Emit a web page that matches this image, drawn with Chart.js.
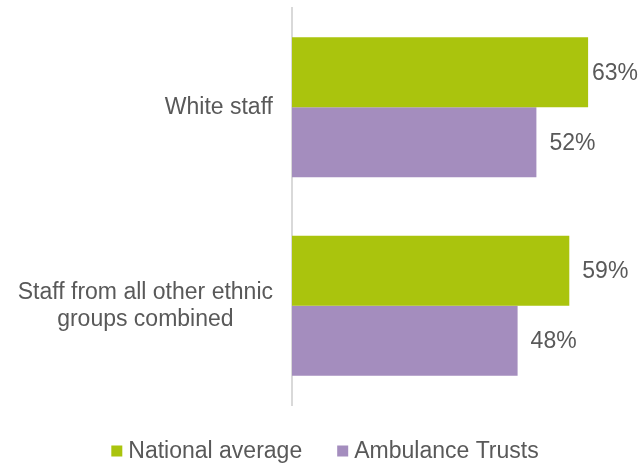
<!DOCTYPE html>
<html>
<head>
<meta charset="utf-8">
<script src="https://cdn.jsdelivr.net/npm/chart.js@4/dist/chart.umd.min.js"></script>
<style>
  html, body { margin: 0; padding: 0; background: #fff; }
  #wrap { width: 640px; height: 463px; }
</style>
</head>
<body>
<div id="wrap"><canvas id="chartStaff"></canvas></div>
<script>
var groups = [['White staff'], ['Staff from all other ethnic', 'groups combined']];
var seriesNames = ['National average', 'Ambulance Trusts'];
var nationalAvg = [63, 59];
var ambulanceTrusts = [52, 48];

var FONT = '"Liberation Sans", Arial, sans-serif';
var TEXT = '#595959';
var GREEN = '#aac40d';
var PURPLE = '#a48dbe';

// category labels: block right-aligned next to the axis, lines centred in the block
var groupLabels = {
  id: 'groupLabels',
  afterDraw: function (chart) {
    var ctx = chart.ctx;
    var y = chart.scales.y;
    var right = chart.chartArea.left - 19;
    ctx.save();
    ctx.font = '23px ' + FONT;
    ctx.fillStyle = TEXT;
    ctx.textAlign = 'center';
    ctx.textBaseline = 'middle';
    chart.data.labels.forEach(function (lines, i) {
      var w = 0;
      lines.forEach(function (l) { w = Math.max(w, ctx.measureText(l).width); });
      var cy = y.getPixelForValue(i);
      var lh = 27;
      var top = cy - (lines.length - 1) * lh / 2;
      lines.forEach(function (l, k) {
        ctx.fillText(l, right - w / 2, top + k * lh);
      });
    });
    ctx.restore();
  }
};

// percentage labels past the end of each bar, pulled back in if they would run off the edge
var valueLabels = {
  id: 'valueLabels',
  afterDatasetsDraw: function (chart) {
    var ctx = chart.ctx;
    ctx.save();
    ctx.font = '23px ' + FONT;
    ctx.fillStyle = TEXT;
    ctx.textAlign = 'left';
    ctx.textBaseline = 'middle';
    chart.data.datasets.forEach(function (ds, di) {
      chart.getDatasetMeta(di).data.forEach(function (bar, i) {
        var txt = ds.data[i] + '%';
        var w = ctx.measureText(txt).width;
        var x = Math.min(bar.x + 13, chart.width - 2 - w);
        ctx.fillText(txt, x, bar.y + 1);
      });
    });
    ctx.restore();
  }
};

// legend row along the bottom
var bottomLegend = {
  id: 'bottomLegend',
  afterDraw: function (chart) {
    var ctx = chart.ctx;
    var box = 11, gapText = 6, gapItem = 35;
    ctx.save();
    ctx.font = '23px ' + FONT;
    ctx.textBaseline = 'middle';
    ctx.textAlign = 'left';
    var items = chart.data.datasets.map(function (ds) {
      return { text: ds.label, color: ds.backgroundColor, w: ctx.measureText(ds.label).width };
    });
    var total = 0;
    items.forEach(function (it, i) { total += box + gapText + it.w + (i ? gapItem : 0); });
    var x = chart.width / 2 + 5 - total / 2;
    var cy = 451;
    items.forEach(function (it) {
      ctx.fillStyle = it.color;
      ctx.fillRect(x, cy - box / 2, box, box);
      ctx.fillStyle = TEXT;
      ctx.fillText(it.text, x + box + gapText, cy + 1);
      x += box + gapText + it.w + gapItem;
    });
    ctx.restore();
  }
};

var ctx = document.getElementById('chartStaff');
var chartStaff = new Chart(ctx, {
  type: 'bar',
  data: {
    labels: groups,
    datasets: [
      { label: seriesNames[0], data: nationalAvg, backgroundColor: GREEN, borderWidth: 0 },
      { label: seriesNames[1], data: ambulanceTrusts, backgroundColor: PURPLE, borderWidth: 0 }
    ]
  },
  options: {
    indexAxis: 'y',
    responsive: true,
    maintainAspectRatio: false,
    animation: { duration: 0 },
    categoryPercentage: 0.705,
    barPercentage: 1.0,
    layout: { padding: { top: 8, bottom: 58, left: 0, right: 19 } },
    plugins: {
      legend: { display: false },
      tooltip: { enabled: false }
    },
    scales: {
      x: {
        display: false,
        min: 0,
        max: 70
      },
      y: {
        grid: { display: false },
        border: { display: true, color: '#d9d9d9', width: 2 },
        ticks: { display: false },
        afterFit: function (scale) { scale.width = 292; }
      }
    }
  },
  plugins: [groupLabels, valueLabels, bottomLegend]
});
</script>
</body>
</html>
